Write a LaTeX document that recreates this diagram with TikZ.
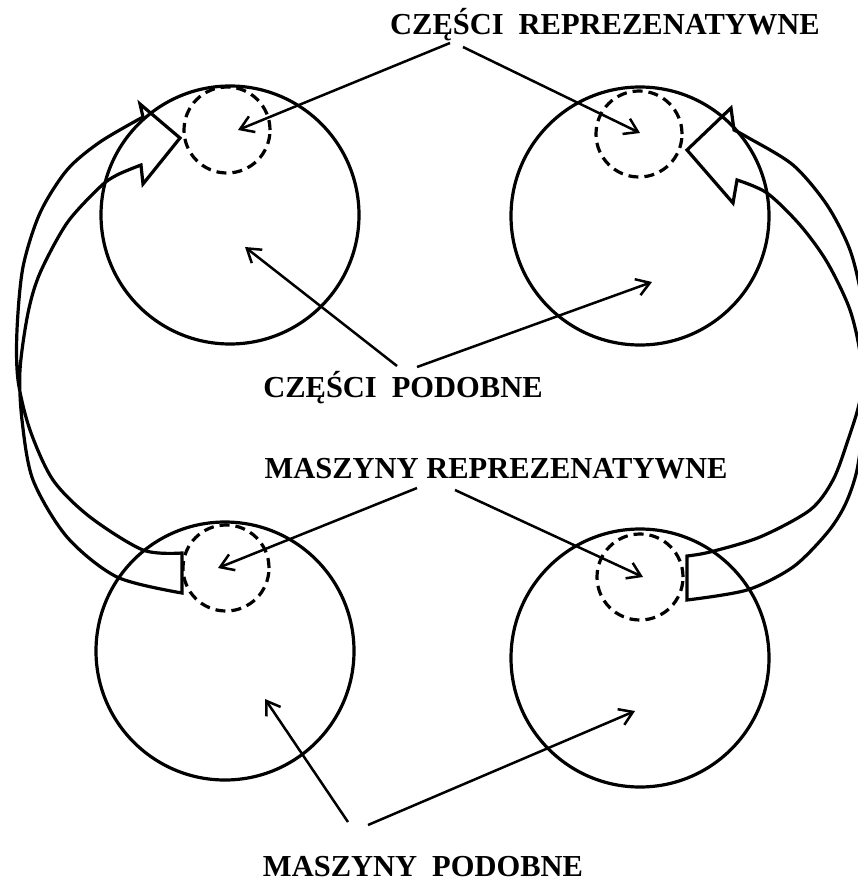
\documentclass[tikz,border=0pt]{standalone}
\usepackage{fontspec}
\setmainfont{Liberation Serif}
\usetikzlibrary{arrows.meta}
\begin{document}
\begin{tikzpicture}[x=1pt,y=-1pt,
  bigc/.style={draw, circle, line width=3.2pt, minimum size=258pt, inner sep=0pt},
  smallc/.style={draw, circle, line width=3.2pt, dash pattern=on 10pt off 6pt, minimum size=86pt, inner sep=0pt},
  lbl/.style={font=\fontsize{30.5}{36}\selectfont\bfseries, anchor=base, inner sep=0pt},
  ptr/.style={line width=2.5pt, -{Straight Barb[length=13pt,width=17pt]}},
  crescent/.style={line width=3.2pt, line join=miter}
]
\useasboundingbox (0,0) rectangle (858,883);
\clip (0,0) rectangle (858,883);
% big circles
\node[bigc] (tl) at (230,215) {};
\node[bigc] (tr) at (640,216) {};
\node[bigc] (bl) at (225,651) {};
\node[bigc] (br) at (640,658) {};
% dashed circles
\node[smallc] (tld) at (227,130) {};
\node[smallc] (trd) at (639,134) {};
\node[smallc] (bld) at (226,568) {};
\node[smallc] (brd) at (640,577) {};
% labels
\node[lbl] (lcr) at (605,35) {CZĘŚCI\hspace{15pt}REPREZENATYWNE};
\node[lbl] (lcp) at (403,397) {CZĘŚCI\hspace{15pt}PODOBNE};
\node[lbl] (lmr) at (496,478) {MASZYNY REPREZENATYWNE};
\node[lbl] (lmp) at (423,876) {MASZYNY\hspace{15pt}PODOBNE};
% arrow ends
\coordinate (s1) at (450,43);  \coordinate (e1) at (238,130);
\coordinate (s2) at (463,47);  \coordinate (e2) at (640,133);
\coordinate (s3) at (397,366); \coordinate (e3) at (245,247);
\coordinate (s4) at (417,367); \coordinate (e4) at (652,282);
\coordinate (s5) at (417,488); \coordinate (e5) at (218,568);
\coordinate (s6) at (455,490); \coordinate (e6) at (643,577);
\coordinate (s7) at (348,822); \coordinate (e7) at (265,699);
\coordinate (s8) at (368,825); \coordinate (e8) at (635,711);
\draw[ptr] (s1) -- (e1);
\draw[ptr] (s2) -- (e2);
\draw[ptr] (s3) -- (e3);
\draw[ptr] (s4) -- (e4);
\draw[ptr] (s5) -- (e5);
\draw[ptr] (s6) -- (e6);
\draw[ptr] (s7) -- (e7);
\draw[ptr] (s8) -- (e8);
% left curved block arrow
\draw[crescent] plot[smooth] coordinates {(182,553) (143,550) (90,517) (53,480) (30,430) (18,380) (17,330) (23,267) (40,213) (67,170) (100,142) (143,117)}
  -- (140,104) -- (180,138) -- (143,184) -- (141,165)
  -- plot[smooth] coordinates {(141,165) (117,175) (100,187) (67,223) (40,273) (28,313) (20,370) (22,420) (33,480) (67,537) (117,577) (182,593)}
  -- cycle;
% right curved block arrow
\draw[crescent] plot[smooth] coordinates {(687,556) (710,552) (760,537) (810,510) (833,480) (848,440) (860,400) (866,350) (862,300) (850,250) (827,205) (793,165) (747,137) (734,130)}
  -- (731,108) -- (687,150) -- (733,203) -- (737,180)
  -- plot[smooth] coordinates {(737,180) (767,193) (800,225) (827,262) (850,310) (861,360) (863,420) (857,470) (845,505) (827,533) (793,567) (747,590) (687,600)}
  -- cycle;
\end{tikzpicture}
\end{document}
